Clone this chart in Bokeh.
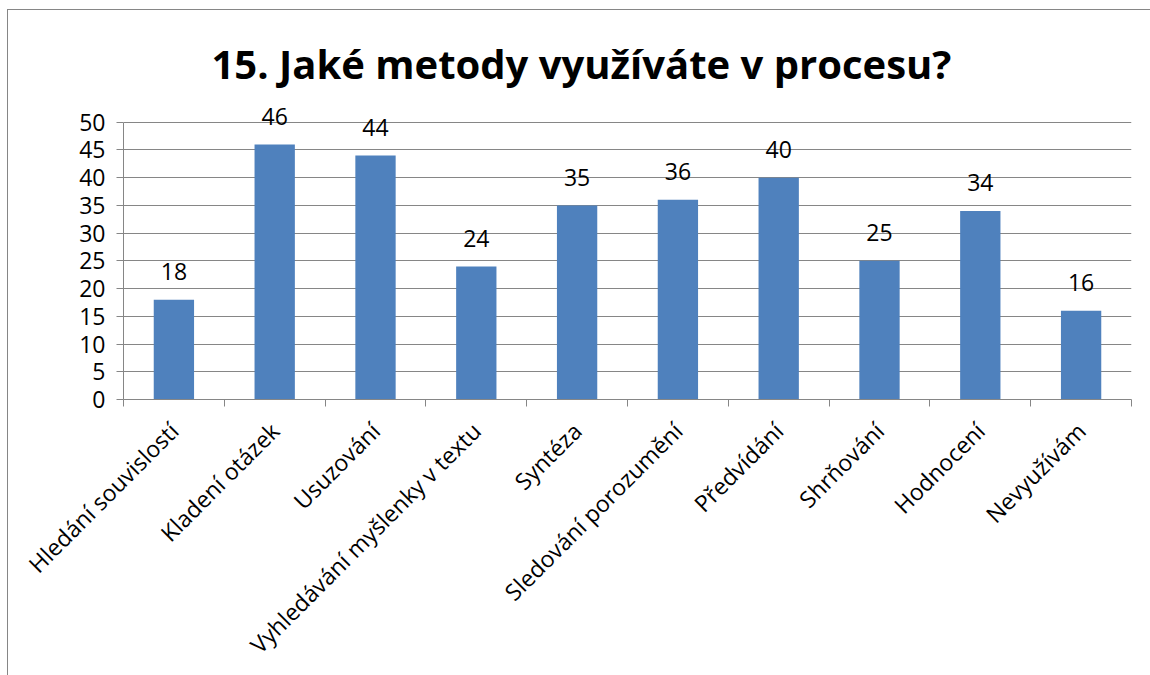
from math import pi
from bokeh.plotting import figure
from bokeh.models import (ColumnDataSource, FactorRange, Range1d, LinearAxis,
                          FixedTicker)
from bokeh.embed import file_html
from bokeh.resources import INLINE
from bokeh.core.properties import value

title_text = "15. Jaké metody využíváte v procesu?"
categories = ["Hledání souvislostí", "Kladení otázek", "Usuzování",
              "Vyhledávání myšlenky v textu", "Syntéza", "Sledování porozumění",
              "Předvídání", "Shrňování", "Hodnocení", "Nevyužívám"]
counts = [18, 46, 44, 24, 35, 36, 40, 25, 34, 16]
y_ticks = [0, 5, 10, 15, 20, 25, 30, 35, 40, 45, 50]

FONT = "Open Sans"
GRAY = "#868686"
BAR = "#4F81BD"

src = ColumnDataSource(dict(cat=categories, n=counts, label=[str(v) for v in counts]))

p = figure(width=1142, height=665,
           x_range=FactorRange(*categories, range_padding=0),
           y_range=Range1d(y_ticks[0], 55),
           x_axis_location=None,
           output_backend="svg", toolbar_location=None,
           min_border_left=115, min_border_right=19,
           min_border_top=84, min_border_bottom=276,
           margin=(10, 0, 0, 8),
           styles={"outline": "1px solid #868686"})
p.outline_line_color = None
p.background_fill_color = "white"
p.border_fill_color = "white"

p.title.text = title_text
p.title.align = "left"
p.title.offset = 88
p.title.standoff = 8
p.title.text_font = FONT
p.title.text_font_size = "40px"
p.title.text_font_style = "bold"
p.title.text_color = "black"

p.vbar(x="cat", top="n", width=0.4, source=src, fill_color=BAR, line_color=None)

p.text(x="cat", y="n", text="label", source=src, text_align="center",
       text_baseline="middle", y_offset=-28, text_font=value(FONT),
       text_font_size="23px", text_color="black")

# y axis
p.yaxis.ticker = FixedTicker(ticks=y_ticks)
p.yaxis.bounds = (y_ticks[0], y_ticks[-1])
p.yaxis.major_label_text_font = FONT
p.yaxis.major_label_text_font_size = "23px"
p.yaxis.major_label_text_color = "black"
p.yaxis.major_tick_out = 7
p.yaxis.major_tick_in = 0
p.yaxis.minor_tick_line_color = None
p.yaxis.axis_line_color = GRAY
p.yaxis.major_tick_line_color = GRAY
p.yaxis.major_label_standoff = 11

p.ygrid.ticker = FixedTicker(ticks=y_ticks)
p.ygrid.grid_line_color = GRAY
p.ygrid.grid_line_width = 1
p.xgrid.visible = False

# x axis: labels at slot centers (synthetic coords of the factor range),
# tick marks at slot boundaries
n_cat = len(categories)
centers = [i + 0.5 for i in range(n_cat)]
xaxis = LinearAxis(ticker=FixedTicker(ticks=centers, minor_ticks=list(range(n_cat + 1))),
                   major_label_overrides={c: cat for c, cat in zip(centers, categories)},
                   major_label_orientation=pi / 4,
                   major_label_text_font=FONT, major_label_text_font_size="23px",
                   major_label_text_color="black",
                   major_tick_line_color=None, major_tick_out=0, major_tick_in=0,
                   minor_tick_out=7, minor_tick_in=0, minor_tick_line_color=GRAY,
                   axis_line_color=GRAY, major_label_standoff=20)
p.add_layout(xaxis, "below")

open("out.html", "w").write(file_html(p, INLINE))
